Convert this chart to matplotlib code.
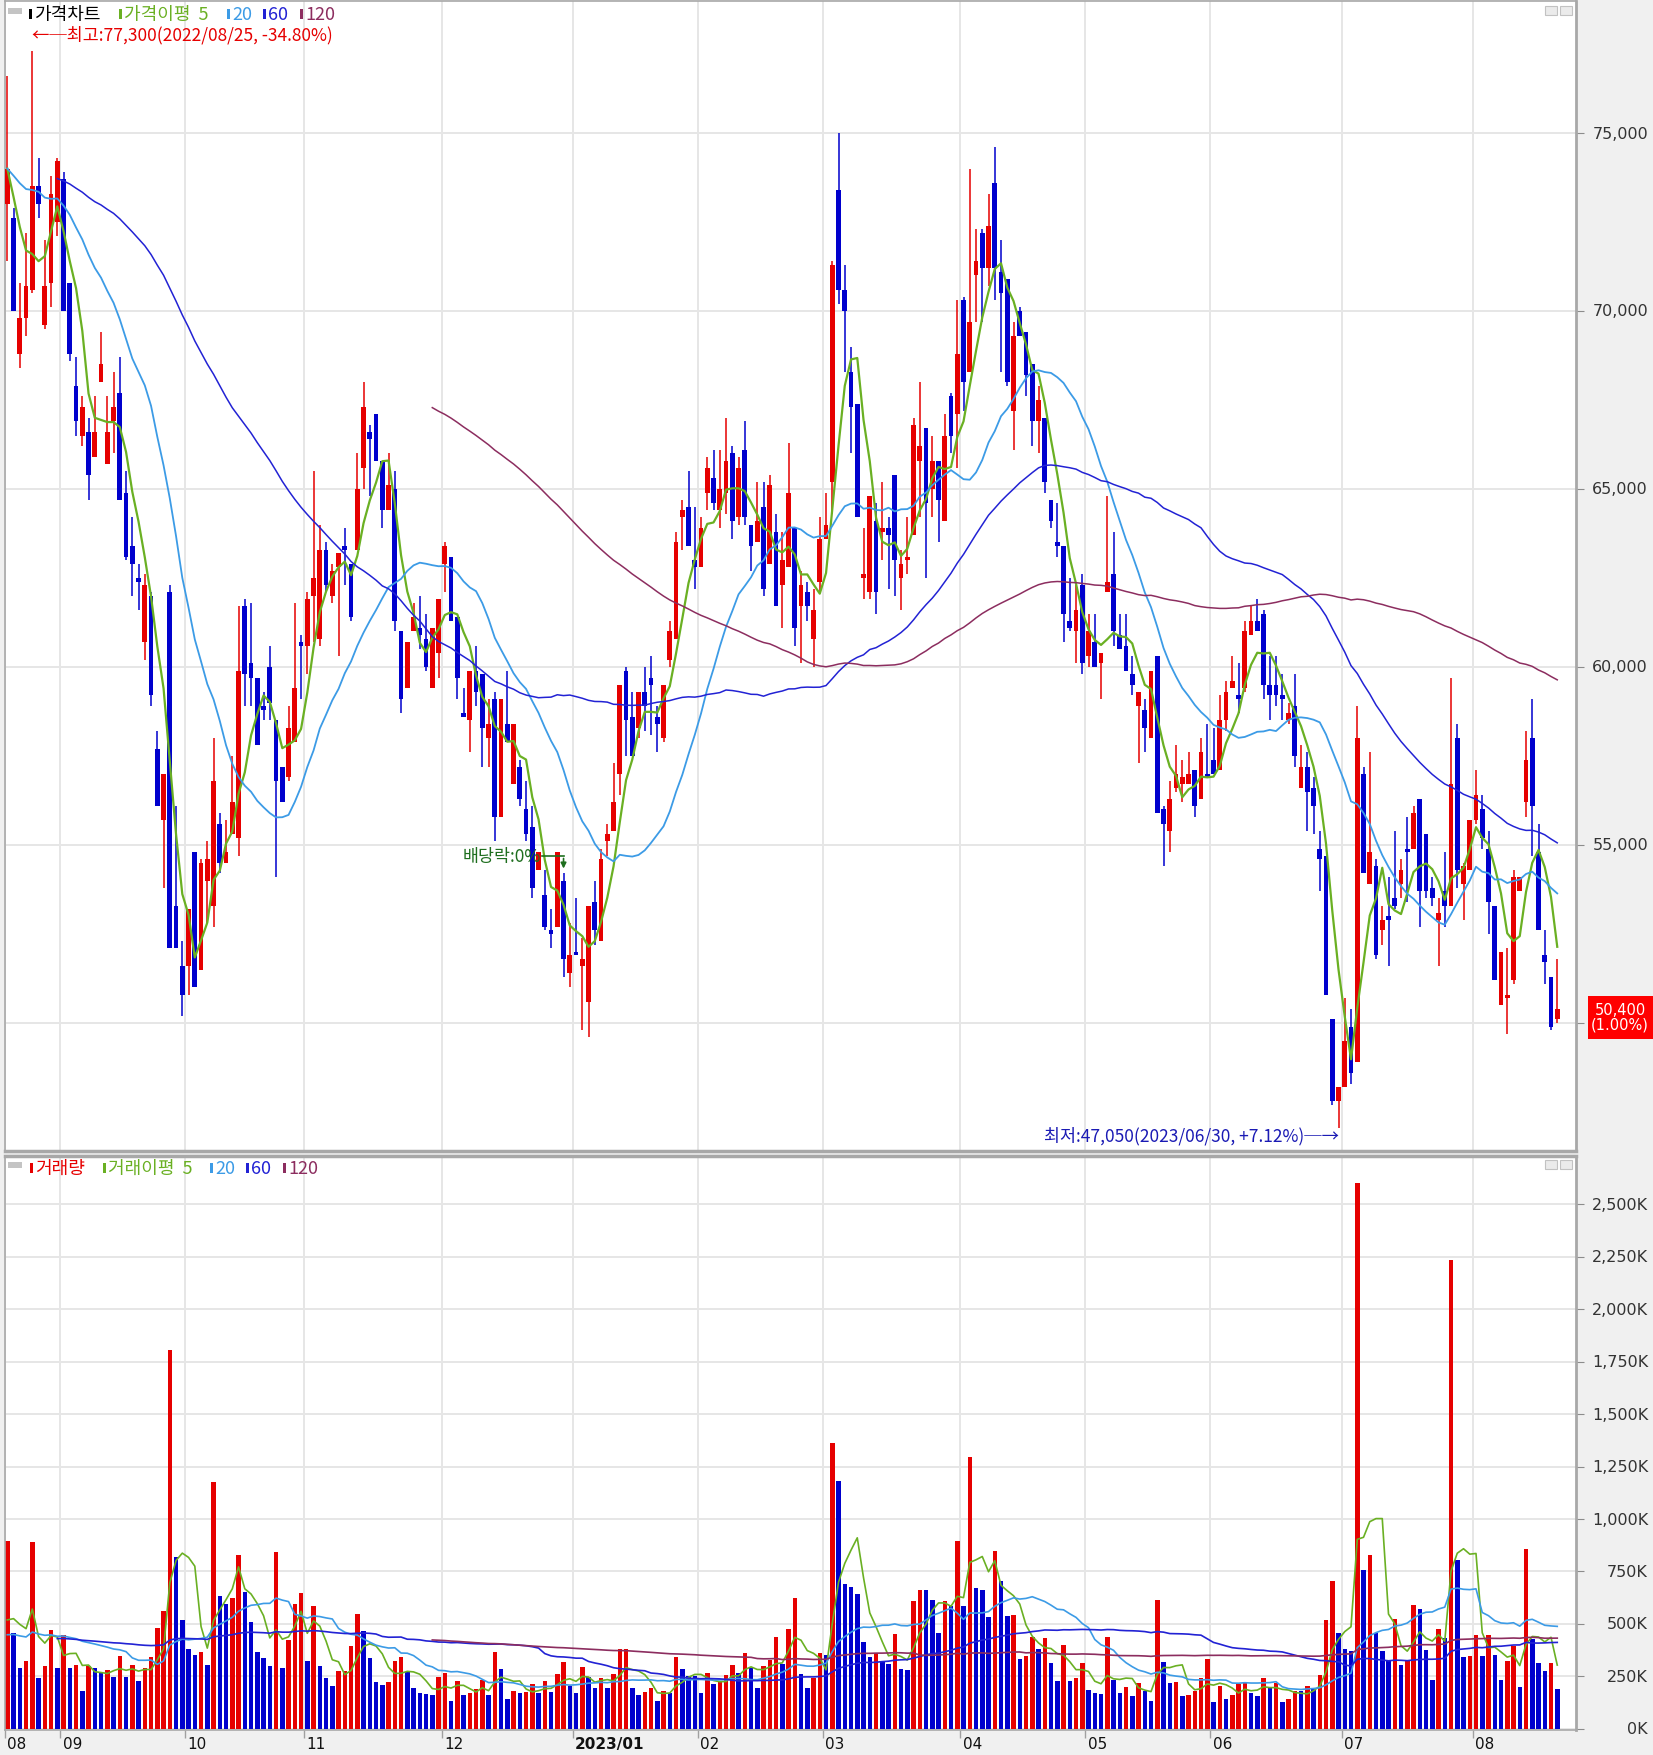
import matplotlib
matplotlib.use("Agg")
import matplotlib.pyplot as plt
from matplotlib.patches import Rectangle
from matplotlib.transforms import blended_transform_factory
import numpy as np
import pandas as pd

# Daily candles 2022-08-19 .. 2023-08-21 (won / thousand shares)
opens = [
    73000, 72600, 68800, 69800, 70600, 73500, 69600, 70800, 72500, 73700,
    70800, 67900, 66500, 66600, 65900, 68000, 65700, 66900, 67700, 64900,
    63400, 62500, 60700, 62000, 57700, 55700, 62100, 53300, 51600, 51600,
    54800, 51500, 54000, 53300, 55600, 54500, 55300, 55200, 61700, 60100,
    59700, 58900, 60000, 58500, 57200, 56900, 57900, 60700, 60600, 62000,
    60800, 63300, 62000, 62800, 63400, 62900, 63300, 65600, 66600, 67100,
    65800, 64400, 65000, 61000, 59400, 61000, 61100, 60800, 59400, 60400,
    62900, 63100, 61400, 58700, 58500, 59900, 59800, 58000, 59100, 55800,
    58400, 56700, 57200, 56000, 55500, 54300, 53600, 52600, 52700, 54000,
    51400, 52000, 51600, 50600, 53400, 52300, 55100, 55400, 57000, 59900,
    58600, 58300, 59300, 59700, 58600, 58000, 60200, 60800, 64200, 64500,
    63000, 62800, 64900, 65300, 64400, 64900, 66000, 64200, 66100, 64000,
    63500, 64500, 62900, 63800, 62300, 62800, 63900, 61700, 62100, 60800,
    62400, 63600, 65200, 73400, 70600, 68300, 67400, 62500, 62100, 64100,
    63800, 63900, 65400, 62500, 63000, 63700, 65800, 66700, 65000, 65800,
    64100, 67600, 67100, 70300, 68300, 71000, 72200, 71200, 73600, 71100,
    70900, 67200, 70000, 69400, 68500, 66900, 67000, 64700, 63500, 63400,
    61300, 61000, 62300, 60300, 60700, 60100, 62100, 62600, 60900, 60600,
    59800, 58900, 58800, 58000, 60300, 56000, 55400, 56600, 56700, 56700,
    57100, 56300, 57000, 57400, 57100, 58500, 59400, 59200, 59400, 60900,
    61300, 61500, 59500, 59500, 59200, 58500, 58900, 56600, 57200, 56600,
    54900, 54700, 50100, 47800, 48200, 49900, 48900, 57000, 53900, 54400,
    52600, 53000, 53500, 53900, 54900, 54900, 56300, 55300, 53800, 52900,
    53700, 53300, 58000, 53900, 54300, 55700, 56000, 54900, 53300, 50500,
    50700, 51200, 53700, 56200, 58000, 54800, 51900, 51300, 50100,
]
highs = [
    76600, 72900, 70800, 72200, 77300, 74300, 72000, 73800, 74300, 73900,
    70800, 68700, 67600, 67000, 67600, 69400, 67600, 68300, 68700, 65500,
    64200, 62900, 62600, 62100, 58200, 57000, 62300, 56100, 52300, 53200,
    54800, 54600, 55100, 58000, 55900, 55700, 57500, 61700, 61900, 61800,
    59700, 59300, 60600, 58500, 57200, 58900, 61800, 60900, 62100, 65500,
    64000, 63500, 62900, 63200, 63900, 62900, 66000, 68000, 66800, 67100,
    65800, 66000, 65500, 61000, 60700, 61800, 62000, 61500, 61100, 61900,
    63500, 63100, 61400, 59400, 59900, 60600, 59800, 59100, 59300, 59100,
    59900, 58400, 57400, 56800, 56100, 54800, 54300, 53200, 54800, 54200,
    52800, 53500, 52400, 53300, 54000, 54900, 55600, 57300, 59500, 60000,
    59300, 59300, 60000, 60300, 58900, 59500, 61300, 63800, 64700, 65500,
    64500, 64200, 65900, 66100, 66100, 67000, 66200, 65900, 66900, 64000,
    65200, 65200, 65400, 64300, 63800, 66300, 63900, 62700, 62400, 62200,
    64200, 64900, 71400, 75000, 71300, 69000, 67400, 63900, 64800, 64600,
    65200, 64200, 65400, 63300, 64200, 67000, 68000, 66700, 66500, 65800,
    67100, 67700, 70300, 70400, 74000, 72300, 72300, 73300, 74600, 72000,
    70900, 69700, 70100, 69400, 68500, 67900, 67000, 64700, 64600, 63400,
    62500, 62300, 62600, 61500, 61500, 60400, 64800, 63800, 61500, 61500,
    60300, 59300, 59100, 59900, 60300, 56100, 56800, 57800, 57400, 57600,
    57100, 58000, 58400, 58300, 59200, 59600, 60300, 60100, 61300, 61700,
    61900, 61600, 60300, 60300, 59800, 59000, 59800, 57800, 57600, 56900,
    55400, 54700, 50100, 48200, 50700, 50400, 58900, 57200, 57600, 54600,
    53300, 54100, 55400, 54600, 55800, 56100, 56300, 55300, 54100, 53500,
    54800, 59700, 58400, 54500, 55700, 57100, 56400, 55400, 53300, 52000,
    52100, 54300, 54100, 58200, 59100, 55600, 52600, 51300, 51800,
]
lows = [
    71400, 70000, 68400, 69300, 70500, 72600, 69500, 70100, 72100, 70000,
    68600, 66500, 66200, 64700, 65900, 68000, 65700, 66000, 64700, 63000,
    62000, 61600, 60200, 58900, 56100, 53800, 52100, 52100, 50200, 50800,
    51000, 51500, 52800, 52700, 54200, 54500, 55300, 54700, 58900, 58900,
    57800, 58500, 58500, 54100, 56200, 56800, 57900, 59100, 59800, 60700,
    60600, 62100, 61800, 60300, 62300, 61300, 63300, 65000, 64800, 65800,
    63900, 64400, 61000, 58700, 59400, 61000, 60500, 59900, 59400, 59700,
    62100, 61300, 59100, 58600, 57600, 58900, 57200, 57200, 55100, 55800,
    57900, 56700, 56100, 55100, 53500, 54300, 52600, 52100, 52700, 51300,
    51000, 51900, 49800, 49600, 52200, 52300, 54700, 55400, 56400, 57500,
    57500, 58000, 58200, 58100, 57600, 57900, 60000, 60800, 63300, 63400,
    62200, 62800, 64400, 64400, 63900, 64300, 63600, 64000, 64000, 62700,
    63500, 62000, 62900, 61700, 61100, 62800, 60600, 60100, 61300, 60000,
    62100, 63600, 64300, 70200, 68300, 66000, 64200, 61900, 61900, 61500,
    63000, 62200, 62000, 61600, 62600, 63700, 64200, 62500, 64200, 63500,
    64100, 66000, 65600, 67200, 68300, 69700, 69700, 70700, 70300, 68300,
    67900, 66100, 69300, 67600, 66200, 66000, 64900, 63900, 63100, 60700,
    61000, 60100, 59800, 60000, 60000, 59100, 62100, 60600, 60500, 59900,
    59200, 57300, 57600, 58000, 55900, 54400, 54800, 56500, 56200, 56700,
    55800, 56300, 56900, 57000, 57100, 58200, 59400, 58700, 59300, 60900,
    61000, 59100, 58500, 58900, 58500, 58400, 57200, 56600, 55400, 55300,
    53700, 50800, 47700, 47050, 48200, 48300, 48900, 54200, 53900, 51800,
    52200, 51600, 53200, 53500, 53400, 54900, 52700, 53500, 53300, 51600,
    52700, 53300, 53800, 52900, 54300, 55600, 54900, 52500, 51200, 50500,
    49700, 51100, 53700, 55800, 54700, 52600, 51100, 49800, 50000,
]
closes = [
    74000, 70000, 69800, 70700, 73500, 73000, 70700, 73300, 74200, 70000,
    68800, 66900, 67300, 65400, 66600, 68500, 66600, 67300, 64700, 63100,
    62900, 62400, 62300, 59200, 56100, 57000, 52100, 52100, 50800, 53200,
    51000, 54500, 54600, 56800, 54500, 54800, 56200, 59900, 59800, 59700,
    57800, 58800, 59000, 56800, 56200, 58300, 59400, 60600, 61900, 62500,
    63300, 62300, 62700, 63200, 63300, 61400, 65000, 67300, 66400, 65800,
    64400, 65100, 61300, 59100, 60700, 61400, 60900, 60000, 61100, 61900,
    63400, 61300, 59700, 58600, 59900, 59300, 58300, 58400, 55800, 59100,
    57900, 58400, 56300, 55300, 53800, 54800, 52700, 52500, 54800, 51800,
    51900, 51900, 51800, 53300, 52600, 54600, 55300, 56200, 59500, 58500,
    57500, 59300, 58900, 59500, 58400, 59500, 61000, 63500, 64400, 63400,
    62800, 63900, 65600, 64600, 65000, 65800, 64100, 65600, 64200, 63400,
    64100, 62200, 65100, 61700, 63000, 64900, 61100, 62300, 61700, 61600,
    63600, 64000, 71300, 70600, 70000, 67300, 64200, 62600, 64800, 62100,
    63900, 63700, 63000, 62900, 63100, 66800, 66200, 64600, 65800, 64700,
    66500, 66500, 68800, 68000, 69700, 71400, 71200, 72400, 71200, 70500,
    68000, 69300, 69300, 68200, 66900, 67500, 65200, 64100, 63400, 61500,
    61100, 61600, 60100, 61000, 60000, 60400, 62400, 61000, 60500, 59900,
    59500, 59300, 58300, 59900, 55900, 55600, 56300, 57000, 56900, 57000,
    56100, 57600, 56900, 57000, 58500, 59300, 59600, 59100, 61000, 61300,
    61000, 59500, 59200, 59200, 59100, 58700, 57500, 57200, 56500, 56100,
    54600, 50800, 47800, 48200, 49500, 48600, 58000, 54200, 54800, 51900,
    52900, 52900, 53300, 54300, 54800, 55900, 53700, 53700, 53500, 53100,
    53300, 56700, 54300, 54400, 55700, 56400, 55200, 53400, 51200, 52000,
    50800, 54100, 54100, 57400, 56100, 52600, 51700, 49900, 50400,
]
volume_k = [
    897, 455, 289, 322, 892, 243, 298, 470, 289, 449,
    289, 304, 182, 298, 289, 271, 280, 249, 348, 249,
    304, 227, 289, 344, 483, 562, 1805, 818, 519, 381,
    354, 367, 304, 1177, 634, 597, 626, 827, 654, 510,
    367, 339, 298, 845, 289, 422, 597, 648, 322, 584,
    298, 241, 203, 274, 278, 396, 547, 468, 339, 225,
    210, 225, 322, 344, 271, 197, 169, 165, 160, 249,
    267, 133, 230, 160, 169, 188, 234, 160, 367, 284,
    142, 182, 169, 175, 216, 169, 230, 177, 262, 320,
    206, 169, 293, 249, 197, 243, 193, 262, 379, 383,
    197, 160, 175, 197, 133, 182, 169, 344, 284, 252,
    250, 169, 267, 216, 222, 256, 304, 267, 363, 289,
    193, 302, 330, 440, 308, 477, 626, 262, 193, 243,
    360, 350, 1363, 1179, 691, 676, 643, 413, 341, 363,
    317, 308, 451, 286, 280, 608, 663, 660, 615, 455,
    608, 584, 897, 584, 1293, 670, 663, 534, 847, 707,
    540, 545, 335, 348, 440, 381, 433, 313, 228, 400,
    228, 243, 313, 184, 169, 167, 440, 234, 169, 201,
    157, 219, 179, 133, 612, 320, 217, 222, 155, 160,
    179, 243, 335, 127, 206, 142, 164, 216, 219, 169,
    157, 243, 197, 219, 127, 142, 182, 180, 206, 197,
    256, 519, 707, 455, 381, 372, 2601, 755, 827, 455,
    372, 326, 525, 304, 326, 589, 569, 376, 234, 477,
    433, 2236, 805, 341, 348, 449, 348, 449, 354, 234,
    326, 394, 201, 855, 427, 313, 276, 313, 192,
]

month_starts = [0, 9, 29, 48, 70, 91, 111, 131, 153, 173, 193, 214, 235]
month_labels = ["08", "09", "10", "11", "12", "2023/01", "02", "03", "04", "05", "06", "07", "08"]
price_ticks = [50000, 55000, 60000, 65000, 70000, 75000]
volume_ticks = [0, 250, 500, 750, 1000, 1250, 1500, 1750, 2000, 2250, 2500]
ma_windows = [5, 20, 60, 120]

# the stock traded ~51 sessions before the window; only their rough level is
# used, to warm up the moving averages the way the original chart shows them
pre_days = 51
pre_close = 74000
pre_volume = 425

high_idx, low_idx, div_idx = 4, 213, 89
high_text = "←─최고:77,300(2022/08/25, -34.80%)"
low_text = "최저:47,050(2023/06/30, +7.12%)─→"
div_text = "배당락:0%"
last_text = "50,400\n(1.00%)"

KR = ["Noto Sans CJK KR", "DejaVu Sans"]
plt.rcParams["font.family"] = ["DejaVu Sans"]

RED = "#E60000"
BLUE = "#0000CD"
MA_COLORS = {5: "#6AB023", 20: "#3C9BE6", 60: "#2222D4", 120: "#8C2D5F"}
MA_WIDTHS = {5: 1.6, 20: 1.3, 60: 1.1, 120: 1.1}
GRID = "#E6E6E6"
FRAME = "#A8A8A8"
DIV_GREEN = "#1E6E1E"

W, H = 1653, 1756
XMIN, XMAX = -0.37, 251.0


def fx(px):
    return px / W


def fy(py):
    return 1 - py / H


def px_rect(x0, y0, w, h, **kw):
    fig.patches.append(Rectangle((fx(x0), fy(y0 + h)), w / W, h / H,
                                 transform=fig.transFigure, figure=fig, **kw))


def moving_averages(values, seed):
    s = pd.Series([seed] * pre_days + list(values), dtype=float)
    return {w: s.rolling(w).mean().to_numpy()[pre_days:] for w in ma_windows}


fig = plt.figure(figsize=(W / 100, H / 100), dpi=100, facecolor="#F0F0F0")
ax_p = fig.add_axes([fx(5), fy(1152), fx(1576) - fx(5), fy(2) - fy(1152)])
ax_v = fig.add_axes([fx(5), fy(1731), fx(1576) - fx(5), fy(1157) - fy(1731)])

o, h, l, c = (np.array(a, dtype=float) for a in (opens, highs, lows, closes))
h = np.maximum(h, np.maximum(o, c))
l = np.minimum(l, np.minimum(o, c))
v = np.array(volume_k, dtype=float)
x = np.arange(len(c))

# price candles: red up, blue down
col = np.where(c >= o, RED, BLUE)
ax_p.vlines(x, l, h, colors=col, linewidth=1.1, zorder=2)
ax_p.bar(x, np.maximum(np.abs(c - o), 40), bottom=np.minimum(o, c), width=0.74,
         color=col, linewidth=0, zorder=3)
for w, ma in moving_averages(c, pre_close).items():
    ax_p.plot(x, ma, color=MA_COLORS[w], lw=MA_WIDTHS[w], zorder=4)

# volume: red when above the previous day's volume
prev = np.r_[pre_volume, v[:-1]]
vcol = np.where(v > prev, RED, BLUE)
ax_v.bar(x, v, width=0.72, color=vcol, linewidth=0, zorder=2)
for w, ma in moving_averages(v, pre_volume).items():
    ax_v.plot(x, ma, color=MA_COLORS[w], lw=1.2, zorder=3)

for ax in (ax_p, ax_v):
    ax.set_facecolor("white")
    ax.set_xlim(XMIN, XMAX)
    ax.set_xticks([XMIN + 0.02] + [m - 0.5 for m in month_starts[1:]])
    ax.tick_params(axis="x", length=0, labelbottom=False)
    ax.tick_params(axis="y", left=False, labelleft=False, right=True, labelright=False,
                   length=6, color="#8C8C8C", direction="out")
    ax.grid(True, color=GRID, lw=1.4)
    ax.set_axisbelow(True)
    for sp in ax.spines.values():
        sp.set_color(FRAME)
        sp.set_linewidth(1.2)
    ax.spines["right"].set_linewidth(2)
ax_p.spines["bottom"].set_linewidth(2.5)
ax_v.spines["top"].set_linewidth(2.5)
ax_v.tick_params(axis="x", length=6, width=1, color="#A0A0A0", direction="out")

ax_p.set_yticks(price_ticks)
ax_p.set_ylim(46404, 78708)
ax_v.set_yticks(volume_ticks)
ax_v.set_ylim(-5, 2729)

# right-hand axis labels
tp = blended_transform_factory(fig.transFigure, ax_p.transData)
for t in price_ticks[1:]:
    fig.text(fx(1648), t, f"{t:,}", transform=tp, ha="right", va="center",
             fontsize=11.5, color="#333333")
tv = blended_transform_factory(fig.transFigure, ax_v.transData)
for t in volume_ticks:
    fig.text(fx(1648), t, f"{t:,}K", transform=tv, ha="right", va="center",
             fontsize=11.5, color="#333333")

# last price box
last = c[-1]
fig.patches.append(Rectangle((fx(1588), last - 30 * 28.09), fx(1653) - fx(1588), 43 * 28.09,
                             transform=tp, figure=fig, facecolor="#FF0000", edgecolor="none"))
fig.text(fx(1620), last - 8 * 28.09, last_text, transform=tp, ha="center", va="center",
         fontsize=10.5, color="white", linespacing=0.95)

# month labels
tx = blended_transform_factory(ax_v.transData, fig.transFigure)
for m, lab in zip(month_starts, month_labels):
    xpos = max(m - 0.5, XMIN) + 0.35
    fig.text(xpos, fy(1745), lab, transform=tx, ha="left", va="center", fontsize=11,
             color="#111111", fontweight="bold" if "/" in lab else "normal")

# panel legends
price_legend = [(29, "가격차트", "#000000"), (119, "가격이평  5", MA_COLORS[5]),
                (227, "20", MA_COLORS[20]), (263, "60", MA_COLORS[60]), (300, "120", MA_COLORS[120])]
volume_legend = [(30, "거래량", RED), (103, "거래이평  5", MA_COLORS[5]),
                 (210, "20", MA_COLORS[20]), (246, "60", MA_COLORS[60]), (283, "120", MA_COLORS[120])]
for y0, items in ((15, price_legend), (1169, volume_legend)):
    px_rect(8, y0 - 6, 14, 6, facecolor="#C4C4C4", edgecolor="none")
    px_rect(1545, y0 - 8, 12, 9, facecolor="#EBEBEB", edgecolor="#C2C2C2", lw=0.8)
    px_rect(1560, y0 - 8, 12, 9, facecolor="#EBEBEB", edgecolor="#C2C2C2", lw=0.8)
    for xm, txt, color in items:
        px_rect(xm, y0 - 5, 3, 10, facecolor=color, edgecolor="none")
        fig.text(fx(xm + 5), fy(y0), txt, ha="left", va="center", fontsize=13,
                 color=color, family=KR)

# high / low / ex-dividend notes
ax_p.text(high_idx, 77780, high_text, color=RED, fontsize=12.5, family=KR,
          ha="left", va="center", zorder=5)
ax_p.text(low_idx, 46855, low_text, color="#1A1AB4", fontsize=12.5, family=KR,
          ha="right", va="center", zorder=5)
yt = 54700
ax_p.text(85.4, yt, div_text, color=DIV_GREEN, fontsize=12.5, family=KR,
          ha="right", va="center", zorder=5)
ax_p.plot([85.6, div_idx], [yt, yt], color=DIV_GREEN, lw=1.2, zorder=5)
ax_p.annotate("", xy=(div_idx, h[div_idx] + 60), xytext=(div_idx, yt),
              arrowprops=dict(arrowstyle="-|>", color=DIV_GREEN, lw=1.2, mutation_scale=8),
              zorder=5)

fig.savefig("out.png", dpi=100, facecolor=fig.get_facecolor())
